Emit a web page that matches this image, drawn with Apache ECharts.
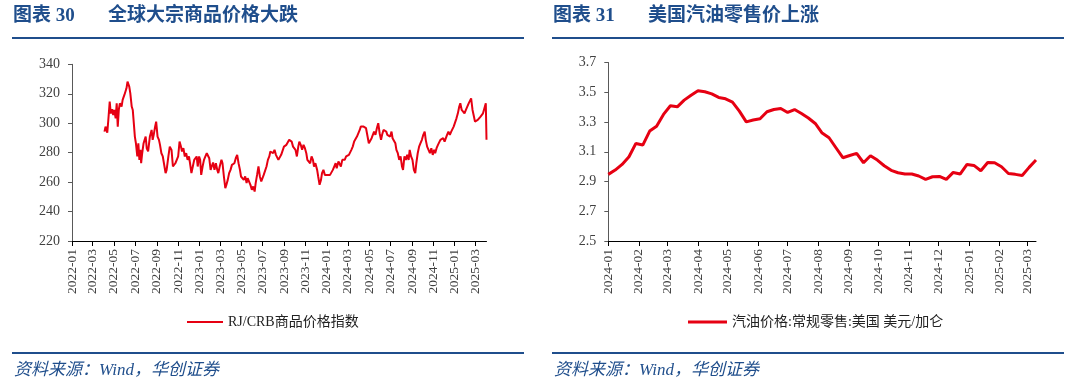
<!DOCTYPE html>
<html><head><meta charset="utf-8">
<script src="https://cdn.jsdelivr.net/npm/echarts@6/dist/echarts.min.js"></script>
<style>html,body{margin:0;padding:0;background:#fff}#c{width:1080px;height:390px}</style>
</head><body><div id="c"></div>
<script>
// ---------------- data ----------------
const leftFigNo = '图表 30';
const leftTitle = '全球大宗商品价格大跌';
const rightFigNo = '图表 31';
const rightTitle = '美国汽油零售价上涨';
const sourceText = '资料来源：Wind，华创证券';

const leftSeriesName = 'RJ/CRB商品价格指数';
const rightSeriesName = '汽油价格:常规零售:美国 美元/加仑';

const leftXTicks = ['2022-01','2022-03','2022-05','2022-07','2022-09','2022-11','2023-01','2023-03','2023-05','2023-07','2023-09','2023-11','2024-01','2024-03','2024-05','2024-07','2024-09','2024-11','2025-01','2025-03'];
const rightXTicks = ['2024-01','2024-02','2024-03','2024-04','2024-05','2024-06','2024-07','2024-08','2024-09','2024-10','2024-11','2024-12','2025-01','2025-02','2025-03'];
const leftYTicks = ['220','240','260','280','300','320','340'];
const rightYTicks = ['2.5','2.7','2.9','3.1','3.3','3.5','3.7'];

const leftDates = [
'2022-04-04','2022-04-07','2022-04-10','2022-04-12','2022-04-15','2022-04-19','2022-04-22','2022-04-26','2022-04-29','2022-05-02',
'2022-05-06','2022-05-09','2022-05-12','2022-05-15','2022-05-18','2022-05-23','2022-05-26','2022-05-31','2022-06-04','2022-06-06',
'2022-06-09','2022-06-11','2022-06-14','2022-06-17','2022-06-21','2022-06-24','2022-06-27','2022-06-30','2022-07-03','2022-07-07',
'2022-07-10','2022-07-13','2022-07-16','2022-07-18','2022-07-21','2022-07-25','2022-07-28','2022-07-31','2022-08-03','2022-08-07',
'2022-08-12','2022-08-17','2022-08-20','2022-08-23','2022-08-27','2022-08-30','2022-09-01','2022-09-03','2022-09-07','2022-09-10',
'2022-09-14','2022-09-18','2022-09-22','2022-09-26','2022-09-29','2022-10-04','2022-10-08','2022-10-13','2022-10-17','2022-10-21',
'2022-10-24','2022-10-28','2022-11-01','2022-11-05','2022-11-09','2022-11-12','2022-11-16','2022-11-20','2022-11-24','2022-11-28',
'2022-12-02','2022-12-05','2022-12-09','2022-12-13','2022-12-17','2022-12-21','2022-12-24','2022-12-27','2022-12-31','2023-01-03',
'2023-01-06','2023-01-10','2023-01-14','2023-01-18','2023-01-22','2023-01-25','2023-01-29','2023-02-02','2023-02-05','2023-02-09',
'2023-02-13','2023-02-17','2023-02-21','2023-02-24','2023-02-28','2023-03-05','2023-03-08','2023-03-12','2023-03-16','2023-03-19',
'2023-03-23','2023-03-27','2023-03-31','2023-04-04','2023-04-07','2023-04-11','2023-04-15','2023-04-19','2023-04-23','2023-04-27',
'2023-04-30','2023-05-04','2023-05-08','2023-05-12','2023-05-16','2023-05-19','2023-05-23','2023-05-27','2023-05-31','2023-06-04',
'2023-06-08','2023-06-11','2023-06-15','2023-06-19','2023-06-23','2023-06-27','2023-06-30','2023-07-04','2023-07-08','2023-07-12',
'2023-07-16','2023-07-20','2023-07-23','2023-07-27','2023-07-31','2023-08-04','2023-08-08','2023-08-11','2023-08-15','2023-08-19',
'2023-08-23','2023-08-27','2023-08-31','2023-09-04','2023-09-07','2023-09-11','2023-09-15','2023-09-19','2023-09-22','2023-09-26',
'2023-09-30','2023-10-03','2023-10-07','2023-10-11','2023-10-14','2023-10-18','2023-10-22','2023-10-26','2023-10-30','2023-11-03',
'2023-11-06','2023-11-10','2023-11-14','2023-11-18','2023-11-22','2023-11-25','2023-11-29','2023-12-04','2023-12-07','2023-12-11',
'2023-12-15','2023-12-18','2023-12-22','2023-12-26','2023-12-30','2024-01-03','2024-01-07','2024-01-10','2024-01-14','2024-01-18',
'2024-01-22','2024-01-26','2024-01-29','2024-02-03','2024-02-06','2024-02-10','2024-02-14','2024-02-17','2024-02-21','2024-02-25',
'2024-02-29','2024-03-04','2024-03-08','2024-03-11','2024-03-15','2024-03-19','2024-03-23','2024-03-27','2024-03-31','2024-04-04',
'2024-04-07','2024-04-11','2024-04-15','2024-04-19','2024-04-22','2024-04-26','2024-04-30','2024-05-04','2024-05-08','2024-05-11',
'2024-05-15','2024-05-19','2024-05-23','2024-05-27','2024-05-31','2024-06-04','2024-06-07','2024-06-11','2024-06-15','2024-06-19',
'2024-06-22','2024-06-26','2024-06-30','2024-07-04','2024-07-07','2024-07-11','2024-07-15','2024-07-18','2024-07-22','2024-07-26',
'2024-07-30','2024-08-03','2024-08-06','2024-08-10','2024-08-14','2024-08-18','2024-08-22','2024-08-25','2024-08-29','2024-09-02',
'2024-09-06','2024-09-10','2024-09-13','2024-09-17','2024-09-21','2024-09-25','2024-09-29','2024-10-03','2024-10-07','2024-10-10',
'2024-10-14','2024-10-18','2024-10-22','2024-10-26','2024-10-30','2024-11-03','2024-11-06','2024-11-10','2024-11-14','2024-11-17',
'2024-11-21','2024-11-25','2024-11-29','2024-12-03','2024-12-07','2024-12-10','2024-12-14','2024-12-18','2024-12-22','2024-12-26',
'2024-12-29','2025-01-03','2025-01-06','2025-01-10','2025-01-14','2025-01-17','2025-01-21','2025-01-25','2025-01-29','2025-02-02',
'2025-02-06','2025-02-10','2025-02-13','2025-02-17','2025-02-21','2025-02-25','2025-02-28','2025-03-04','2025-03-08','2025-03-12',
'2025-03-16','2025-03-20','2025-03-23','2025-03-27','2025-03-31','2025-04-02'
];
const leftValues = [
294.3,297.7,298.2,293.6,302.2,314.7,306.7,309.5,305.6,309.0,
303.3,313.5,297.7,309.0,313.5,311.3,315.8,319.2,320.3,323.7,
328.2,329.3,324.8,320.3,311.3,309.0,300.0,290.9,286.4,277.4,
286.4,275.1,281.9,272.8,279.6,286.4,288.7,290.9,283.0,280.8,
290.9,295.4,288.7,292.1,297.7,301.1,301.1,290.9,288.7,285.3,
279.6,277.4,277.4,266.1,268.3,277.4,284.1,281.9,270.6,271.0,
272.8,275.1,277.4,287.5,284.1,280.8,283.0,277.4,279.6,275.1,
277.4,272.8,266.1,270.6,275.1,275.1,277.4,270.6,277.4,275.1,
264.9,270.6,275.1,277.4,279.6,280.1,276.2,268.3,270.6,273.3,
268.3,272.8,268.3,266.1,270.6,275.1,272.8,263.8,255.9,258.1,
261.5,266.1,268.3,271.7,272.8,272.8,276.2,278.5,272.8,268.3,
263.8,264.9,261.5,263.8,259.3,262.7,261.5,258.1,254.8,257.0,
253.6,259.3,264.9,270.6,263.8,260.4,261.5,264.9,266.1,270.6,
275.1,277.4,280.8,281.9,279.6,281.9,278.5,279.6,275.1,276.2,
278.5,279.6,284.1,284.1,285.3,286.4,288.7,289.8,287.5,284.1,
283.0,281.9,277.4,284.1,287.5,285.3,281.9,285.3,283.0,279.6,
275.1,276.2,272.8,277.4,275.1,270.6,272.8,268.3,263.8,258.2,
261.5,266.1,268.3,264.9,263.8,264.9,263.8,264.9,266.1,268.3,
267.2,272.8,269.4,274.0,272.8,270.6,275.1,274.0,275.1,277.4,
276.2,278.5,279.6,281.9,284.1,287.5,288.7,290.9,290.9,295.4,
297.7,297.7,297.7,297.7,296.6,295.4,286.4,285.3,289.8,288.7,
294.3,292.1,296.6,300.0,293.2,288.7,292.1,295.4,294.3,294.3,
292.1,293.2,290.9,294.3,289.8,290.9,286.4,281.9,279.6,275.1,
277.4,270.6,268.3,277.4,275.1,278.5,275.1,281.9,277.4,275.1,
268.3,266.1,272.8,279.6,284.1,286.4,288.7,292.1,294.3,288.7,
284.1,281.9,279.6,283.0,278.5,281.9,279.6,283.0,285.3,286.4,
288.7,287.5,289.8,287.5,288.7,292.1,294.3,292.1,294.3,293.2,
297.7,298.8,303.3,306.7,311.3,313.5,309.0,310.1,306.7,309.0,
310.1,313.5,314.7,316.9,309.0,304.5,301.1,302.2,302.2,303.3,
304.5,305.6,306.7,306.7,313.5,288.7
];

const rightDates = [
'2024-01-01','2024-01-08','2024-01-15','2024-01-22','2024-01-29','2024-02-05','2024-02-12','2024-02-19','2024-02-26','2024-03-04',
'2024-03-11','2024-03-18','2024-03-25','2024-04-01','2024-04-08','2024-04-15','2024-04-22','2024-04-29','2024-05-06','2024-05-13',
'2024-05-20','2024-05-27','2024-06-03','2024-06-10','2024-06-17','2024-06-24','2024-07-01','2024-07-08','2024-07-15','2024-07-22',
'2024-07-29','2024-08-05','2024-08-12','2024-08-19','2024-08-26','2024-09-02','2024-09-09','2024-09-16','2024-09-23','2024-09-30',
'2024-10-07','2024-10-14','2024-10-21','2024-10-28','2024-11-04','2024-11-11','2024-11-18','2024-11-25','2024-12-02','2024-12-09',
'2024-12-16','2024-12-23','2024-12-30','2025-01-06','2025-01-13','2025-01-20','2025-01-27','2025-02-03','2025-02-10','2025-02-17',
'2025-02-24','2025-03-03','2025-03-10'
];
const rightValues = [
2.948,2.977,3.015,3.066,3.156,3.145,3.239,3.272,3.351,3.409,
3.402,3.447,3.480,3.510,3.503,3.489,3.465,3.456,3.434,3.373,
3.301,3.313,3.322,3.369,3.384,3.391,3.364,3.384,3.357,3.327,
3.290,3.226,3.194,3.127,3.060,3.075,3.089,3.026,3.073,3.044,
3.006,2.975,2.959,2.950,2.950,2.937,2.914,2.932,2.934,2.914,
2.961,2.950,3.015,3.008,2.972,3.028,3.026,2.999,2.954,2.948,
2.941,2.995,3.044
];

// ---------------- helpers ----------------
function ts(s) { const p = s.split('-').map(Number); return Date.UTC(p[0], p[1] - 1, p[2] || 1); }
function ym(v) { const d = new Date(v); return d.getUTCFullYear() + '-' + String(d.getUTCMonth() + 1).padStart(2, '0'); }

const BLUE = '#1f4e8c';
const RED = '#e60012';
const LABEL = '#404040';
const SERIF = '"Liberation Serif", "Noto Sans CJK SC", serif';

function xAxisFor(idx, ticks, first, last) {
  const vals = ticks.map(ts);
  return {
    type: 'value', gridIndex: idx, min: ts(first), max: ts(last), scale: true,
    axisLine: { show: true, lineStyle: { color: '#000', width: 1 } },
    axisTick: { show: true, length: 5, lineStyle: { color: '#000' }, customValues: vals },
    axisLabel: { customValues: vals, rotate: 90, margin: 8, color: LABEL, fontSize: 13.5, fontFamily: SERIF,
      formatter: v => ym(v) },
    splitLine: { show: false }
  };
}
function yAxisFor(idx, ticks, min, max) {
  const vals = ticks.map(Number);
  return {
    type: 'value', gridIndex: idx, min: min, max: max,
    axisLine: { show: true, lineStyle: { color: '#595959', width: 1 } },
    axisTick: { show: true, length: 4, lineStyle: { color: '#595959' }, customValues: vals },
    axisLabel: { customValues: vals, margin: 12, color: LABEL, fontSize: 14, fontFamily: SERIF,
      formatter: v => { const i = vals.findIndex(t => Math.abs(t - v) < 1e-6); return i >= 0 ? ticks[i] : String(v); } },
    splitLine: { show: false }
  };
}

const chart = echarts.init(document.getElementById('c'), null, { renderer: 'canvas' });
const option = {
  animation: false,
  backgroundColor: '#fff',
  grid: [
    { left: 72, right: 593.5, top: 64.3, bottom: 149 },
    { left: 608.3, right: 44, top: 62.5, bottom: 149 }
  ],
  xAxis: [
    xAxisFor(0, leftXTicks, '2022-01-01', leftDates[leftDates.length - 1]),
    xAxisFor(1, rightXTicks, '2024-01-01', rightDates[rightDates.length - 1])
  ],
  yAxis: [
    yAxisFor(0, leftYTicks, 220, 340),
    yAxisFor(1, rightYTicks, 2.5, 3.7)
  ],
  legend: [
    { data: [{ name: leftSeriesName, icon: 'rect' }], left: 187, top: 315, padding: 0, itemWidth: 36, itemHeight: 2, itemGap: 10,
      textStyle: { fontSize: 14, color: '#222', fontFamily: SERIF } },
    { data: [{ name: rightSeriesName, icon: 'rect' }], left: 688, top: 315, padding: 0, itemWidth: 39, itemHeight: 3, itemGap: 10,
      textStyle: { fontSize: 14, color: '#222', fontFamily: SERIF } }
  ],
  series: [
    { name: leftSeriesName, type: 'line', xAxisIndex: 0, yAxisIndex: 0, symbol: 'none',
      lineStyle: { color: RED, width: 2 }, itemStyle: { color: RED },
      data: leftDates.map((d, i) => [ts(d), leftValues[i]]) },
    { name: rightSeriesName, type: 'line', xAxisIndex: 1, yAxisIndex: 1, symbol: 'none',
      lineStyle: { color: RED, width: 3 }, itemStyle: { color: RED },
      data: rightDates.map((d, i) => [ts(d), rightValues[i]]) }
  ],
  graphic: [
    { type: 'text', left: 13, top: 7, style: { text: leftFigNo, fill: BLUE, fontSize: 19, fontWeight: 'bold', fontFamily: SERIF } },
    { type: 'text', left: 108, top: 7, style: { text: leftTitle, fill: BLUE, fontSize: 19, fontWeight: 'bold', fontFamily: SERIF } },
    { type: 'text', left: 553, top: 7, style: { text: rightFigNo, fill: BLUE, fontSize: 19, fontWeight: 'bold', fontFamily: SERIF } },
    { type: 'text', left: 648, top: 7, style: { text: rightTitle, fill: BLUE, fontSize: 19, fontWeight: 'bold', fontFamily: SERIF } },
    { type: 'line', shape: { x1: 12, y1: 38, x2: 524, y2: 38 }, style: { stroke: BLUE, lineWidth: 2 } },
    { type: 'line', shape: { x1: 552, y1: 38, x2: 1064, y2: 38 }, style: { stroke: BLUE, lineWidth: 2 } },
    { type: 'line', shape: { x1: 12, y1: 353, x2: 524, y2: 353 }, style: { stroke: BLUE, lineWidth: 2 } },
    { type: 'line', shape: { x1: 552, y1: 353, x2: 1064, y2: 353 }, style: { stroke: BLUE, lineWidth: 2 } },
    { type: 'text', left: 14, top: 362, style: { text: sourceText, fill: BLUE, fontSize: 17, fontStyle: 'italic', fontFamily: SERIF } },
    { type: 'text', left: 554, top: 362, style: { text: sourceText, fill: BLUE, fontSize: 17, fontStyle: 'italic', fontFamily: SERIF } }
  ]
};
chart.setOption(option);
</script>
</body></html>
